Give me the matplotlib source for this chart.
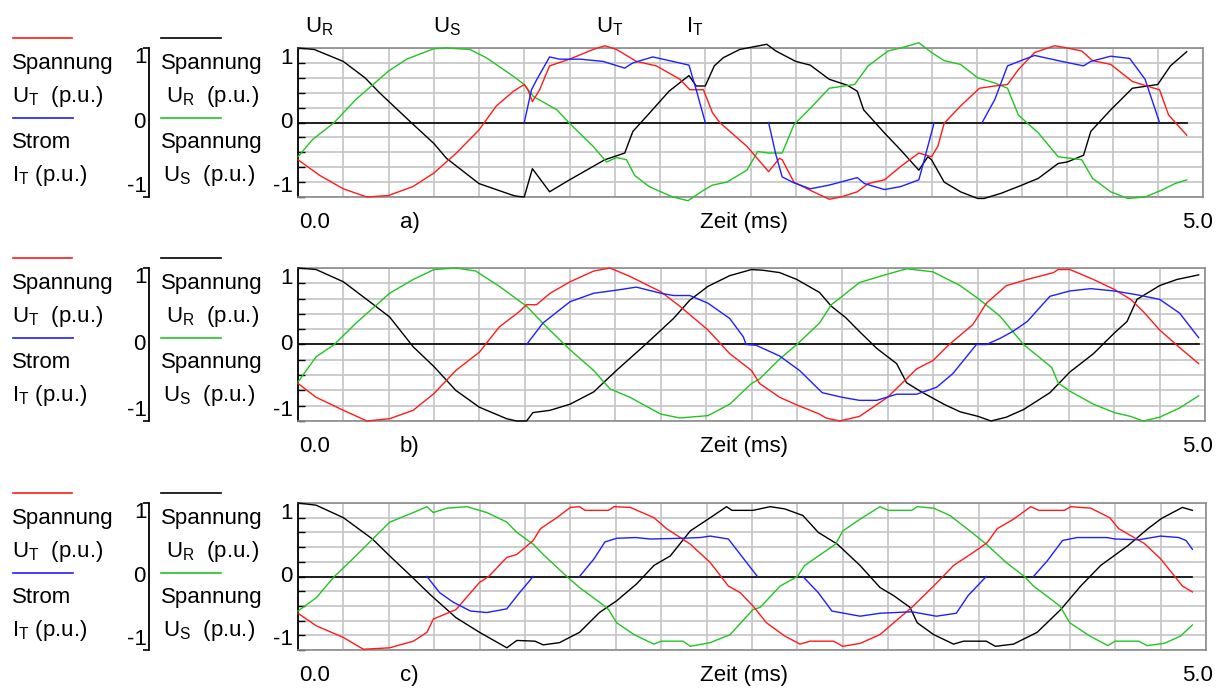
import numpy as np
import matplotlib
matplotlib.use('Agg')
from matplotlib import pyplot as plt
from matplotlib.lines import Line2D

plt.rcParams['font.family'] = ['Liberation Sans', 'DejaVu Sans']
plt.rcParams['mathtext.fontset'] = 'custom'
plt.rcParams['mathtext.rm'] = 'Liberation Sans'
plt.rcParams['mathtext.it'] = 'Liberation Sans'

W, H = 1229, 690
FS = 16

# time in ms, values in p.u.; (None, None) = trace not drawn (current is zero)
'''
    a) 
'''
a_ur = [(0, 1.0), (0.09, 0.98), (0.25, 0.82), (0.37, 0.6), (0.45, 0.4), (0.625, 0.0), (0.75, -0.28),
        (0.82, -0.48), (1.0, -0.82), (1.19, -0.98), (1.21, -0.99), (1.25, -1.0), (1.295, -0.62),
        (1.39, -0.93), (1.5, -0.77), (1.63, -0.59), (1.695, -0.5), (1.805, -0.41), (1.85, -0.12),
        (1.925, 0.08), (2.05, 0.42), (2.16, 0.63), (2.2, 0.49), (2.25, 0.49), (2.3, 0.76), (2.35, 0.87),
        (2.44, 0.98), (2.59, 1.05), (2.64, 0.96), (2.75, 0.82), (2.83, 0.77), (2.935, 0.58), (3.035, 0.5),
        (3.09, 0.42), (3.125, 0.17), (3.24, -0.14), (3.33, -0.37), (3.43, -0.64), (3.48, -0.46),
        (3.5, -0.5), (3.57, -0.8), (3.66, -0.93), (3.755, -1.02), (3.79, -1.02), (3.885, -0.95),
        (4.0, -0.84), (4.09, -0.75), (4.2, -0.55), (4.25, -0.53), (4.34, -0.44), (4.38, -0.12),
        (4.49, 0.17), (4.61, 0.46), (4.75, 0.51), (4.82, 0.76), (4.91, 0.95)]
a_us = [(0, -0.46), (0.08, -0.23), (0.2, 0.0), (0.32, 0.31), (0.5, 0.69), (0.6, 0.85), (0.75, 0.99),
        (0.82, 1.0), (0.95, 0.98), (1.04, 0.87), (1.19, 0.62), (1.25, 0.51), (1.3, 0.35), (1.43, 0.17),
        (1.5, -0.01), (1.63, -0.32), (1.705, -0.53), (1.76, -0.47), (1.815, -0.5), (1.86, -0.71),
        (1.94, -0.86), (2.07, -1.0), (2.155, -1.05), (2.24, -0.91), (2.29, -0.84), (2.37, -0.8),
        (2.48, -0.64), (2.54, -0.39), (2.6, -0.41), (2.675, -0.41), (2.74, -0.03), (2.83, 0.19),
        (2.935, 0.46), (3.075, 0.51), (3.15, 0.76), (3.26, 0.96), (3.33, 1.0), (3.43, 1.07), (3.5, 0.94),
        (3.57, 0.83), (3.66, 0.78), (3.755, 0.6), (3.85, 0.53), (3.92, 0.46), (3.98, 0.1), (4.09, -0.14),
        (4.2, -0.46), (4.33, -0.5), (4.39, -0.75), (4.49, -0.93), (4.585, -1.02), (4.68, -1.0),
        (4.77, -0.91), (4.845, -0.82), (4.91, -0.77)]
a_ut = [(0, -0.5), (0.12, -0.71), (0.25, -0.89), (0.38, -1.0), (0.5, -0.98), (0.635, -0.86), (0.75, -0.68),
        (0.875, -0.41), (1.0, -0.1), (1.095, 0.22), (1.19, 0.42), (1.25, 0.51), (1.27, 0.44), (1.295, 0.28),
        (1.335, 0.44), (1.39, 0.76), (1.5, 0.85), (1.63, 0.98), (1.695, 1.03), (1.76, 0.98), (1.87, 0.82),
        (1.98, 0.76), (2.11, 0.58), (2.165, 0.44), (2.24, 0.44), (2.29, 0.13), (2.33, 0.0), (2.48, -0.32),
        (2.6, -0.66), (2.66, -0.48), (2.675, -0.5), (2.74, -0.8), (2.83, -0.91), (2.935, -1.03),
        (3.0, -1.0), (3.09, -0.93), (3.15, -0.82), (3.24, -0.77), (3.33, -0.59), (3.43, -0.41),
        (3.5, -0.46), (3.535, -0.32), (3.57, -0.01), (3.66, 0.22), (3.765, 0.46), (3.85, 0.49),
        (3.92, 0.51), (3.98, 0.71), (4.07, 0.94), (4.18, 1.03), (4.25, 1.0), (4.33, 0.96), (4.39, 0.83),
        (4.49, 0.78), (4.61, 0.55), (4.73, 0.46), (4.76, 0.44), (4.81, 0.1), (4.91, -0.17)]
a_it = [(1.25, 0.0), (1.29, 0.44), (1.32, 0.58), (1.39, 0.88), (1.445, 0.85), (1.56, 0.85), (1.685, 0.82),
        (1.805, 0.73), (1.85, 0.8), (1.96, 0.88), (2.07, 0.82), (2.16, 0.77), (2.2, 0.44), (2.25, 0.0),
        (None, None),
        (2.6, 0.0), (2.64, -0.43), (2.675, -0.73), (2.74, -0.81), (2.83, -0.89), (2.935, -0.84),
        (3.09, -0.74), (3.13, -0.82), (3.24, -0.9), (3.33, -0.86), (3.43, -0.77), (3.46, -0.5),
        (3.515, 0.0),
        (None, None),
        (3.78, 0.0), (3.85, 0.31), (3.92, 0.76), (4.015, 0.85), (4.07, 0.9), (4.22, 0.82), (4.34, 0.76),
        (4.38, 0.82), (4.49, 0.89), (4.595, 0.86), (4.68, 0.58), (4.76, 0.0)]

'''
    b)
'''
b_ur = [(0, 1.0), (0.1, 0.98), (0.25, 0.82), (0.395, 0.56), (0.505, 0.36), (0.635, -0.03), (0.75, -0.29),
        (0.87, -0.6), (1.0, -0.82), (1.15, -0.97), (1.205, -1.0), (1.26, -1.0), (1.295, -0.89),
        (1.39, -0.86), (1.5, -0.78), (1.63, -0.62), (1.755, -0.34), (1.92, 0.01), (2.07, 0.34),
        (2.16, 0.58), (2.26, 0.76), (2.38, 0.9), (2.5, 0.98), (2.565, 0.97), (2.655, 0.94), (2.75, 0.85),
        (2.875, 0.68), (2.94, 0.5), (3.02, 0.35), (3.095, 0.17), (3.19, -0.05), (3.3, -0.25),
        (3.355, -0.5), (3.43, -0.61), (3.56, -0.78), (3.65, -0.88), (3.75, -0.94), (3.82, -1.0),
        (3.905, -0.95), (4.0, -0.85), (4.145, -0.63), (4.255, -0.36), (4.385, -0.12), (4.5, 0.15),
        (4.57, 0.3), (4.625, 0.59), (4.75, 0.77), (4.845, 0.85), (4.965, 0.91)]
b_us = [(0, -0.49), (0.1, -0.16), (0.2, 0.0), (0.32, 0.28), (0.505, 0.67), (0.635, 0.85), (0.75, 0.98),
        (0.87, 1.0), (0.98, 0.96), (1.11, 0.76), (1.26, 0.5), (1.37, 0.23), (1.5, -0.07), (1.63, -0.34),
        (1.72, -0.58), (1.83, -0.69), (2.0, -0.91), (2.105, -0.96), (2.26, -0.93), (2.38, -0.78),
        (2.5, -0.51), (2.545, -0.45), (2.655, -0.19), (2.75, 0.0), (2.875, 0.28), (2.94, 0.52),
        (3.0, 0.63), (3.095, 0.81), (3.25, 0.92), (3.355, 0.99), (3.5, 0.95), (3.65, 0.77), (3.75, 0.6),
        (3.87, 0.37), (4.0, 0.0), (4.155, -0.3), (4.19, -0.5), (4.255, -0.61), (4.385, -0.78),
        (4.5, -0.89), (4.59, -0.94), (4.66, -1.0), (4.75, -0.95), (4.86, -0.83), (4.965, -0.67)]
b_ut = [(0, -0.51), (0.1, -0.69), (0.25, -0.86), (0.38, -1.0), (0.505, -0.97), (0.635, -0.86),
        (0.75, -0.64), (0.87, -0.34), (1.0, -0.1), (1.11, 0.23), (1.22, 0.43), (1.26, 0.52),
        (1.315, 0.52), (1.39, 0.67), (1.5, 0.82), (1.63, 0.96), (1.72, 1.0), (1.83, 0.89), (2.0, 0.69),
        (2.105, 0.5), (2.26, 0.19), (2.38, -0.12), (2.5, -0.34), (2.545, -0.51), (2.655, -0.69),
        (2.75, -0.79), (2.875, -0.91), (2.91, -0.96), (2.985, -1.0), (3.095, -0.94), (3.25, -0.69),
        (3.41, -0.32), (3.5, -0.21), (3.59, 0.0), (3.72, 0.26), (3.795, 0.54), (3.905, 0.77),
        (4.02, 0.85), (4.165, 0.94), (4.19, 0.98), (4.255, 0.98), (4.385, 0.85), (4.5, 0.72),
        (4.59, 0.59), (4.66, 0.43), (4.75, 0.19), (4.855, -0.03), (4.965, -0.25)]
b_it = [(1.26, 0.0), (1.35, 0.28), (1.5, 0.56), (1.63, 0.67), (1.755, 0.71), (1.865, 0.75), (2.0, 0.67),
        (2.07, 0.64), (2.16, 0.64), (2.26, 0.54), (2.38, 0.34), (2.455, 0.1), (2.47, 0.0), (2.525, -0.01),
        (2.655, -0.15), (2.765, -0.34), (2.89, -0.63), (3.0, -0.69), (3.095, -0.73), (3.19, -0.73),
        (3.3, -0.65), (3.41, -0.65), (3.52, -0.56), (3.61, -0.38), (3.74, 0.0), (3.795, 0.0),
        (3.87, 0.08), (3.94, 0.17), (4.02, 0.3), (4.145, 0.63), (4.255, 0.7), (4.37, 0.73), (4.5, 0.7),
        (4.625, 0.65), (4.75, 0.59), (4.86, 0.41), (4.965, 0.09)]

'''
    c)
'''
c_ur = [(0, 1.0), (0.1, 0.97), (0.25, 0.8), (0.41, 0.51), (0.505, 0.28), (0.625, 0.0), (0.725, -0.24),
        (0.87, -0.56), (1.0, -0.76), (1.15, -0.97), (1.205, -0.87), (1.305, -0.88), (1.35, -0.93),
        (1.44, -0.9), (1.55, -0.76), (1.66, -0.49), (1.755, -0.33), (1.865, -0.1), (1.96, 0.15),
        (2.05, 0.28), (2.16, 0.62), (2.27, 0.8), (2.36, 0.95), (2.39, 0.9), (2.505, 0.9), (2.6, 0.95),
        (2.68, 0.92), (2.78, 0.83), (2.865, 0.6), (2.97, 0.44), (3.095, 0.15), (3.205, -0.15),
        (3.28, -0.26), (3.37, -0.42), (3.41, -0.63), (3.5, -0.79), (3.61, -0.92), (3.665, -0.88),
        (3.79, -0.88), (3.84, -0.95), (3.94, -0.92), (4.07, -0.76), (4.2, -0.45), (4.31, -0.13),
        (4.42, 0.15), (4.57, 0.42), (4.68, 0.65), (4.755, 0.79), (4.87, 0.94), (4.925, 0.9)]
c_us = [(0, -0.47), (0.1, -0.29), (0.2, 0.0), (0.31, 0.26), (0.505, 0.74), (0.635, 0.87), (0.71, 0.95),
        (0.745, 0.87), (0.82, 0.93), (0.93, 0.95), (1.04, 0.87), (1.15, 0.74), (1.205, 0.6), (1.295, 0.44),
        (1.35, 0.3), (1.48, 0.0), (1.55, -0.15), (1.66, -0.35), (1.71, -0.45), (1.755, -0.63),
        (1.85, -0.79), (1.96, -0.92), (2.0, -0.88), (2.12, -0.88), (2.16, -0.95), (2.27, -0.9),
        (2.38, -0.79), (2.505, -0.45), (2.545, -0.42), (2.655, -0.13), (2.75, 0.0), (2.79, 0.15),
        (2.96, 0.44), (3.0, 0.62), (3.095, 0.78), (3.205, 0.95), (3.25, 0.9), (3.38, 0.9), (3.41, 0.95),
        (3.5, 0.93), (3.59, 0.83), (3.7, 0.62), (3.79, 0.44), (3.9, 0.19), (4.0, 0.0), (4.05, -0.13),
        (4.195, -0.4), (4.25, -0.63), (4.36, -0.81), (4.46, -0.94), (4.5, -0.88), (4.63, -0.88),
        (4.675, -0.94), (4.77, -0.91), (4.86, -0.81), (4.925, -0.66)]
c_ut = [(0, -0.5), (0.1, -0.67), (0.25, -0.83), (0.36, -0.99), (0.505, -0.97), (0.635, -0.88),
        (0.71, -0.76), (0.745, -0.58), (0.87, -0.45), (1.0, -0.08), (1.05, 0.0), (1.15, 0.26),
        (1.205, 0.3), (1.295, 0.49), (1.335, 0.65), (1.425, 0.8), (1.5, 0.94), (1.55, 0.95), (1.58, 0.9),
        (1.71, 0.9), (1.74, 0.95), (1.83, 0.94), (1.96, 0.8), (2.03, 0.65), (2.16, 0.44), (2.27, 0.19),
        (2.37, -0.13), (2.435, -0.22), (2.505, -0.4), (2.58, -0.63), (2.68, -0.81), (2.765, -0.92),
        (2.82, -0.88), (2.95, -0.88), (3.0, -0.95), (3.095, -0.91), (3.205, -0.79), (3.28, -0.63),
        (3.38, -0.42), (3.5, -0.13), (3.61, 0.15), (3.72, 0.33), (3.795, 0.46), (3.85, 0.65),
        (3.94, 0.78), (4.035, 0.95), (4.08, 0.9), (4.22, 0.9), (4.255, 0.95), (4.365, 0.93), (4.47, 0.8),
        (4.52, 0.65), (4.66, 0.45), (4.75, 0.24), (4.825, 0.01), (4.87, -0.13), (4.925, -0.21)]
c_it = [(0.71, 0.0), (0.78, -0.22), (0.855, -0.35), (0.95, -0.47), (1.04, -0.49), (1.15, -0.44),
        (1.22, -0.22), (1.295, 0.0),
        (None, None),
        (1.55, 0.0), (1.63, 0.24), (1.69, 0.47), (1.755, 0.52), (1.86, 0.53), (1.94, 0.51), (2.105, 0.52),
        (2.215, 0.53), (2.27, 0.55), (2.37, 0.51), (2.47, 0.19), (2.53, 0.0),
        (None, None),
        (2.78, 0.0), (2.865, -0.22), (2.94, -0.47), (2.985, -0.49), (3.095, -0.54), (3.205, -0.5),
        (3.38, -0.48), (3.515, -0.54), (3.625, -0.5), (3.69, -0.26), (3.79, 0.0),
        (None, None),
        (4.05, 0.0), (4.125, 0.21), (4.21, 0.49), (4.29, 0.53), (4.455, 0.53), (4.5, 0.51), (4.63, 0.5),
        (4.75, 0.55), (4.85, 0.53), (4.89, 0.49), (4.925, 0.37)]

panel_tags = ['a)', 'b)', 'c)']
col_red, col_blue, col_green, col_black = '#ff1a1a', '#1f1fff', '#22c422', '#000000'

# plot boxes in pixels (left, top, right, bottom)
boxes = [(298, 48, 1203, 197), (298, 268, 1205, 421), (298, 503, 1206, 650)]

fig = plt.figure(figsize=(W / 100, H / 100), dpi=100)


def ftext(x, y, s, **kw):
    fig.text(x / W, 1 - y / H, s, fontsize=FS, **kw)


def fline(x0, x1, y, color):
    fig.add_artist(Line2D([x0 / W, x1 / W], [1 - y / H] * 2, color=color, lw=1.2))


def arr(pairs):
    a = np.array(pairs, dtype=float)
    return a[:, 0], a[:, 1]


data = [(a_ur, a_us, a_ut, a_it), (b_ur, b_us, b_ut, b_it), (c_ur, c_us, c_ut, c_it)]

for k, (box, (ur, us, ut, it)) in enumerate(zip(boxes, data)):
    x0, y0, x1, y1 = box
    off = y0 - 48
    ax = fig.add_axes([x0 / W, 1 - y1 / H, (x1 - x0) / W, (y1 - y0) / H])
    ax.set_xlim(0, 5.0)
    ax.set_ylim(-1, 1)
    ax.set_xticks(np.arange(0, 5.001, 0.25))
    ax.set_yticks(np.arange(-1, 1.001, 0.2))
    ax.grid(True, color='#c8c8c8', lw=1.3)
    ax.tick_params(axis='x', length=0, labelbottom=False)
    ax.tick_params(axis='y', direction='in', length=5, width=1, labelleft=False)
    for s in ['top', 'right', 'bottom']:
        ax.spines[s].set_color('#8c8c8c')
        ax.spines[s].set_linewidth(1.2)
    ax.spines['left'].set_linewidth(1.3)

    t_ur, v_ur = arr(ur)
    ax.plot([0, np.nanmax(t_ur)], [0, 0], color='black', lw=1.2, zorder=2)
    for pairs, c in [(ur, col_black), (us, col_green), (ut, col_red), (it, col_blue)]:
        t, v = arr(pairs)
        ax.plot(t, v, color=c, lw=1.0, clip_on=False, zorder=3)

    # main axis labels
    ax.text(-0.006, 1.0, '1', transform=ax.transAxes, ha='right', va='top', fontsize=FS)
    ax.text(-0.006, 0.5, '0', transform=ax.transAxes, ha='right', va='center', fontsize=FS)
    ax.text(-0.006, 0.0, '-1', transform=ax.transAxes, ha='right', va='bottom', fontsize=FS)

    # second scale column
    ax2 = fig.add_axes([149 / W, 1 - y1 / H, 0.0001, (y1 - y0) / H])
    ax2.set_ylim(-1, 1)
    ax2.set_xticks([])
    ax2.set_yticks([-1, 1])
    ax2.set_yticklabels([])
    ax2.tick_params(axis='y', direction='out', length=4, width=1.2)
    for s in ['top', 'right', 'bottom']:
        ax2.spines[s].set_visible(False)
    ax2.spines['left'].set_linewidth(1.3)
    ax2.patch.set_visible(False)
    ftext(147, y0 - 1, '1', ha='right', va='top')
    ftext(146, (y0 + y1) / 2, '0', ha='right', va='center')
    ftext(147, y1, '-1', ha='right', va='bottom')

    # legend columns
    fline(13, 72, 38 + off, col_red)
    ftext(12, 69 + off, 'Spannung', va='baseline')
    ftext(12, 102 + off, r'$\mathrm{U_T}$  (p.u.)', va='baseline')
    fline(13, 73, 118 + off, col_blue)
    ftext(12, 148 + off, 'Strom', va='baseline')
    ftext(12, 181 + off, r'$\mathrm{I_T}$ (p.u.)', va='baseline')
    fline(161, 221, 38 + off, col_black)
    ftext(161, 69 + off, 'Spannung', va='baseline')
    ftext(166, 102 + off, r'$\mathrm{U_R}$  (p.u.)', va='baseline')
    fline(161, 221, 118 + off, col_green)
    ftext(161, 148 + off, 'Spannung', va='baseline')
    ftext(163, 181 + off, r'$\mathrm{U_S}$  (p.u.)', va='baseline')

    # bottom labels
    yb = y1 + 31
    ftext(299, yb, '0.0', va='baseline')
    ftext(400, yb, panel_tags[k], va='baseline')
    ftext(700, yb, 'Zeit (ms)', va='baseline')
    ftext(1182, yb, '5.0', va='baseline')

# curve names above panel a
ftext(305, 32, r'$\mathrm{U_R}$', va='baseline')
ftext(433, 32, r'$\mathrm{U_S}$', va='baseline')
ftext(596, 32, r'$\mathrm{U_T}$', va='baseline')
ftext(686, 32, r'$\mathrm{I_T}$', va='baseline')

fig.savefig('out.png', dpi=100)
